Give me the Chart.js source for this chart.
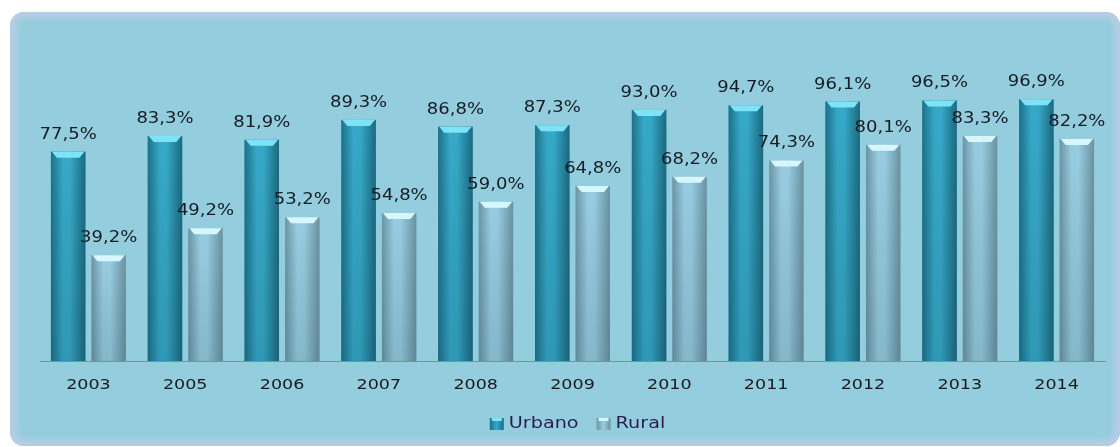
<!DOCTYPE html>
<html>
<head>
<meta charset="utf-8">
<script src="https://cdn.jsdelivr.net/npm/chart.js@4"></script>
<style>
  html, body { margin: 0; padding: 0; background: #ffffff; overflow: hidden; }
  #panel {
    position: absolute; left: 10px; top: 12px; width: 1110px; height: 434px;
    border-radius: 14px; background: #94cddd;
    box-shadow: inset 0 0 6px 6px #b9cde5;
  }
  #chart { position: absolute; left: 0; top: 0; }
</style>
</head>
<body>
<div id="panel"></div>
<canvas id="chart" width="1120" height="447"></canvas>
<script>
var years = ["2003", "2005", "2006", "2007", "2008", "2009", "2010", "2011", "2012", "2013", "2014"];
var urbano = [77.5, 83.3, 81.9, 89.3, 86.8, 87.3, 93.0, 94.7, 96.1, 96.5, 96.9];
var rural = [39.2, 49.2, 53.2, 54.8, 59.0, 64.8, 68.2, 74.3, 80.1, 83.3, 82.2];

// shading for each series: edge, middle, dark edge, top bevel
var shades = [
  { edge: "#1d7189", mid: "#36a9c8", dark: "#1b6a80", top: "#7ee3f6" },
  { edge: "#6b95a6", mid: "#98cde1", dark: "#6a92a2", top: "#d8f7fc" }
];

function fmt(v) {
  return v.toFixed(1).replace(".", ",") + "%";
}

// text in the picture is a bit wider than DejaVu, so stretch it a little
function wideText(ctx, txt, x, y, align, sx) {
  ctx.save();
  ctx.translate(x, y);
  ctx.scale(sx, 1);
  ctx.textAlign = align;
  ctx.fillText(txt, 0, 0);
  ctx.restore();
}

var barLook = {
  id: "barLook",
  afterDatasetsDraw: function (chart) {
    var ctx = chart.ctx;
    chart.data.datasets.forEach(function (ds, di) {
      var meta = chart.getDatasetMeta(di);
      var s = shades[di];
      meta.data.forEach(function (bar, i) {
        var l = bar.x - bar.width / 2, r = bar.x + bar.width / 2;
        var top = bar.y, bottom = bar.base;
        var g = ctx.createLinearGradient(l, 0, r, 0);
        g.addColorStop(0, s.edge);
        g.addColorStop(0.35, s.mid);
        g.addColorStop(0.55, s.mid);
        g.addColorStop(1, s.dark);
        ctx.save();
        ctx.fillStyle = g;
        ctx.fillRect(l, top, r - l, bottom - top);
        var v = ctx.createLinearGradient(0, top, 0, bottom);
        v.addColorStop(0, "rgba(0,0,0,0)");
        v.addColorStop(1, "rgba(0,30,50,0.12)");
        ctx.fillStyle = v;
        ctx.fillRect(l, top, r - l, bottom - top);
        ctx.fillStyle = s.top;
        ctx.beginPath();
        ctx.moveTo(l + 1, top);
        ctx.lineTo(r - 1, top);
        ctx.lineTo(r - 6, top + 6);
        ctx.lineTo(l + 6, top + 6);
        ctx.closePath();
        ctx.fill();
        ctx.fillStyle = "#161c24";
        ctx.font = "15px 'DejaVu Sans'";
        wideText(ctx, fmt(ds.data[i]), bar.x, top - 13, "center", 1.2);
        ctx.restore();
      });
    });
  },
  afterDraw: function (chart) {
    var ctx = chart.ctx;
    var xs = chart.scales.x;
    ctx.save();
    // category labels
    ctx.fillStyle = "#1a1a1a";
    ctx.font = "14px 'DejaVu Sans'";
    ctx.textBaseline = "middle";
    years.forEach(function (y, i) {
      wideText(ctx, y, xs.getPixelForTick(i), 385, "center", 1.25);
    });
    // legend
    ctx.font = "15px 'DejaVu Sans'";
    var sx = 1.28;
    var items = chart.data.datasets.map(function (ds, di) {
      return { text: ds.label, w: ctx.measureText(ds.label).width * sx, s: shades[di] };
    });
    var total = 0;
    items.forEach(function (it, k) { total += 14 + 5 + it.w + (k ? 18 : 0); });
    var x = (chart.chartArea.left + chart.chartArea.right) / 2 + 5 - total / 2;
    items.forEach(function (it) {
      var g = ctx.createLinearGradient(x, 0, x + 14, 0);
      g.addColorStop(0, it.s.edge);
      g.addColorStop(0.5, it.s.mid);
      g.addColorStop(1, it.s.dark);
      ctx.fillStyle = g;
      ctx.fillRect(x, 418, 14, 12);
      ctx.fillStyle = it.s.top;
      ctx.fillRect(x + 2, 418, 10, 3);
      ctx.fillStyle = "#2b1e4f";
      wideText(ctx, it.text, x + 19, 424, "left", sx);
      x += 14 + 5 + it.w + 18;
    });
    ctx.restore();
  }
};

new Chart(document.getElementById("chart"), {
  type: "bar",
  data: {
    labels: years,
    datasets: [
      { label: "Urbano", data: urbano, backgroundColor: "#2a95b2", borderWidth: 0 },
      { label: "Rural", data: rural, backgroundColor: "#8dbfd3", borderWidth: 0 }
    ]
  },
  options: {
    responsive: false,
    animation: false,
    devicePixelRatio: 1,
    categoryPercentage: 0.837,
    barPercentage: 0.85,
    layout: { padding: { left: 40, right: 15, top: 91, bottom: 86 } },
    plugins: {
      legend: { display: false },
      tooltip: { enabled: false }
    },
    scales: {
      x: {
        grid: { display: false, drawTicks: false },
        border: { display: true, color: "#7d8f98", width: 1 },
        ticks: { display: false }
      },
      y: { display: false, min: 0, max: 100 }
    }
  },
  plugins: [barLook]
});
</script>
</body>
</html>
